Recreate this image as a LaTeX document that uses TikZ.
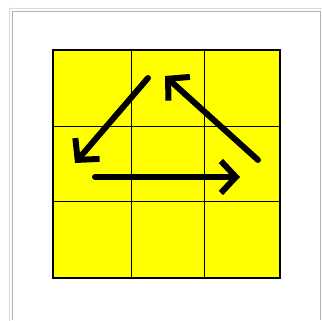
\documentclass[tikz,border=0pt]{standalone}
\usetikzlibrary{arrows.meta}

\definecolor{gridyellow}{RGB}{255,255,0}
\tikzset{
  cycarrow/.style={line width=6pt, line cap=round, line join=round,
    -{Straight Barb[length=15pt, width=32pt, line width=6pt]}},
  frameline/.style={draw=black!30, line width=0.8pt}
}

\begin{document}
\begin{tikzpicture}[x=1pt, y=-1pt]
  \useasboundingbox (0,0) rectangle (322,321);

  % Rahmen
  \draw[draw=black!15, line width=0.8pt] (9,8) -- (9,321);
  \draw[draw=black!15, line width=0.8pt] (9,8) -- (322,8);
  \draw[frameline] (12.5,320) -- (12.5,11) -- (320,11) -- (320,320);

  % Raster 3x3
  \fill[gridyellow] (53,50) rectangle (280,278);
  \draw[line width=1.3pt] (53,50) rectangle (280,278);
  \draw[line width=1pt] (131,50) -- (131,278);
  \draw[line width=1pt] (204,50) -- (204,278);
  \draw[line width=1pt] (53,127) -- (280,127);
  \draw[line width=1pt] (53,202) -- (280,202);

  % Punkte der Pfeile
  \coordinate (oben)   at (148,78);
  \coordinate (links)  at (75,163);
  \coordinate (mitteL) at (95,177);
  \coordinate (mitteR) at (240,177);
  \coordinate (rechts) at (258,160);
  \coordinate (spitze) at (165,76);

  % Pfeile im Kreis
  \draw[cycarrow] (oben) -- (links);
  \draw[cycarrow] (mitteL) -- (mitteR);
  \draw[cycarrow] (rechts) -- (spitze);
\end{tikzpicture}
\end{document}
